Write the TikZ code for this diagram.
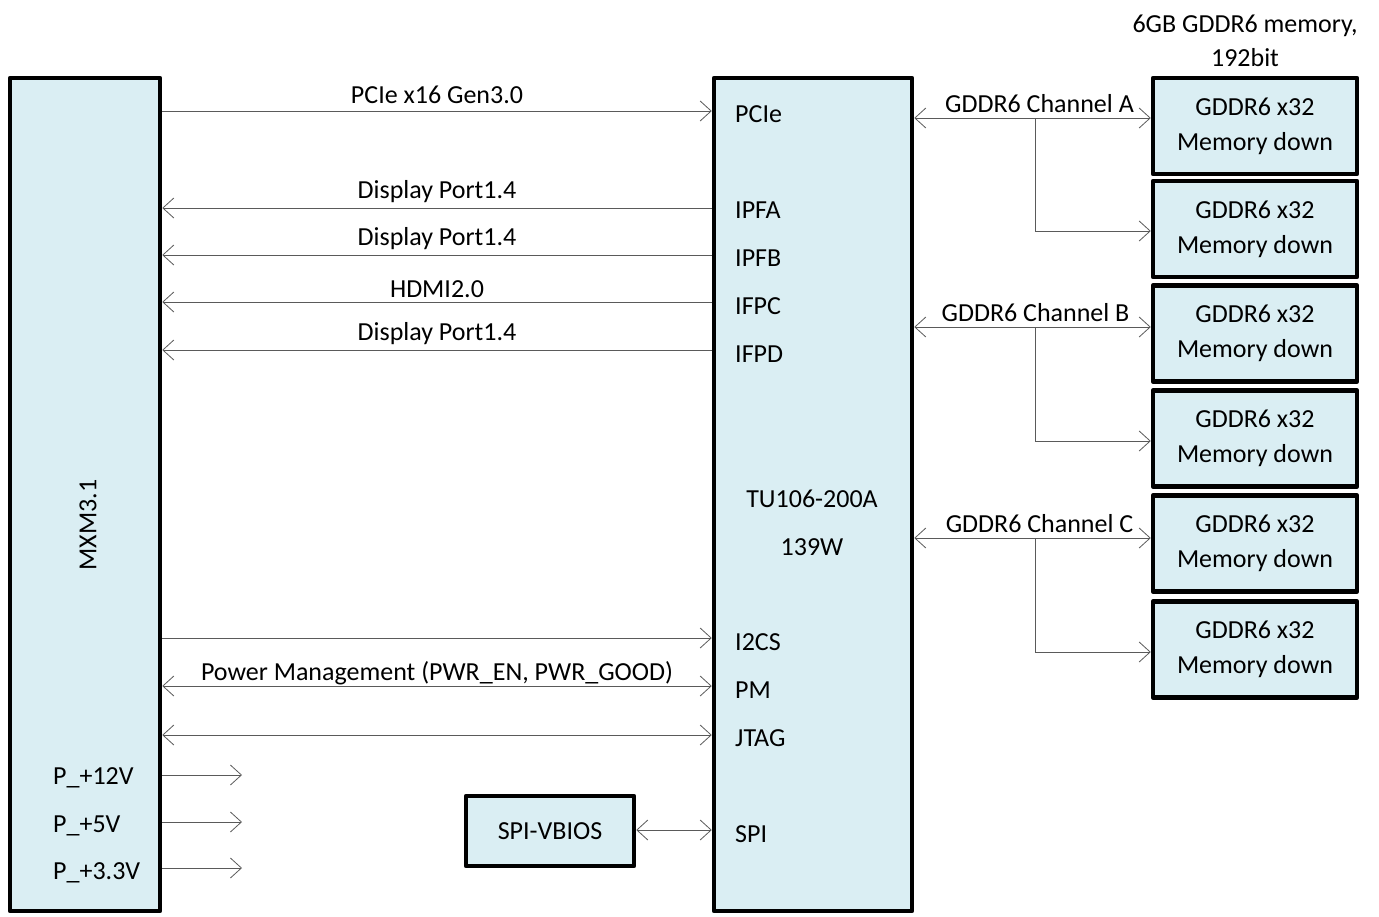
\documentclass[tikz,border=0pt]{standalone}
\usepackage{fontspec}
\setmainfont{Carlito}
\usetikzlibrary{arrows.meta}
\definecolor{boxfill}{RGB}{218,238,243}
\definecolor{linegray}{RGB}{90,90,90}
\tikzset{
  x=1pt, y=-1pt,
  every node/.style={font=\fontsize{26}{35}\selectfont, text=black},
  blockbox/.style={draw=black, line width=4.5pt, fill=boxfill, line join=round, inner sep=0pt, align=center},
  conn/.style={draw=linegray, line width=1pt},
  fwd/.style={conn, -{Straight Barb[length=11pt,width=20pt,line width=0.8pt]}},
  bwd/.style={conn, {Straight Barb[length=11pt,width=20pt,line width=0.8pt]}-},
  both/.style={conn, {Straight Barb[length=11pt,width=20pt,line width=0.8pt]}-{Straight Barb[length=11pt,width=20pt,line width=0.8pt]}},
  pin/.style={anchor=west, inner sep=0pt},
  lbl/.style={midway, inner sep=0pt, yshift=16pt}
}
\begin{document}
\begin{tikzpicture}
\useasboundingbox (0,0) rectangle (1379,916);
% main blocks
\node[blockbox, minimum width=150, minimum height=833] (mxm) at (85,494.5) {};
\node[rotate=90] (mxmlbl) at (88,525) {MXM3.1};
\node[blockbox, minimum width=198, minimum height=833] (gpu) at (813,494.5) {};
\node[align=center, font=\fontsize{26}{48}\selectfont] (gpulbl) at (812,523) {TU106-200A\\139W};
\node[blockbox, minimum width=168, minimum height=70] (vbios) at (550,831) {SPI-VBIOS};
% memory
\node[align=center, font=\fontsize{26}{34}\selectfont] (memtitle) at (1245,41) {6GB GDDR6 memory,\\192bit};
\foreach \i/\y in {1/126,2/229,3/333.5,4/438.5,5/543.5,6/649.5}{
  \node[blockbox, minimum width=204, minimum height=96] (mem\i) at (1255,\y) {GDDR6 x32\\Memory down};
}
% GPU pins
\node[pin] (pPCIe) at (735,114) {PCIe};
\node[pin] (pIPFA) at (735,210) {IPFA};
\node[pin] (pIPFB) at (735,258) {IPFB};
\node[pin] (pIFPC) at (735,306) {IFPC};
\node[pin] (pIFPD) at (735,354) {IFPD};
\node[pin] (pI2CS) at (735,642) {I2CS};
\node[pin] (pPM) at (735,690) {PM};
\node[pin] (pJTAG) at (735,738) {JTAG};
\node[pin] (pSPI) at (735,834) {SPI};
% power labels
\node[pin] (v12) at (53,778) {P\_+12V};
\node[pin] (v5) at (53,826) {P\_+5V};
\node[pin] (v33) at (53,873) {P\_+3.3V};
% coordinates for connector rows
\foreach \n/\y in {rPCIe/111,rA/208,rB/255,rC/302,rD/350,rI2C/638,rPM/686,rJTAG/735,rSPI/830,r12/775,r5/822,r33/868,chA/118,chB/327,chC/538,brA/231,brB/441,brC/652}{
  \coordinate (\n) at (0,\y);
}
\coordinate (e12) at (242,775);
\coordinate (e5) at (242,822);
\coordinate (e33) at (242,868);
\coordinate (brx) at (1035,0);
% MXM <-> GPU connectors
\draw[fwd] (mxm.east |- rPCIe) -- node[lbl]{PCIe x16 Gen3.0} (gpu.west |- rPCIe);
\draw[bwd] (mxm.east |- rA) -- node[lbl]{Display Port1.4} (gpu.west |- rA);
\draw[bwd] (mxm.east |- rB) -- node[lbl]{Display Port1.4} (gpu.west |- rB);
\draw[bwd] (mxm.east |- rC) -- node[lbl, yshift=-3pt]{HDMI2.0} (gpu.west |- rC);
\draw[bwd] (mxm.east |- rD) -- node[lbl]{Display Port1.4} (gpu.west |- rD);
\draw[fwd] (mxm.east |- rI2C) -- (gpu.west |- rI2C);
\draw[both] (mxm.east |- rPM) -- node[lbl, yshift=-3pt]{Power Management (PWR\_EN, PWR\_GOOD)} (gpu.west |- rPM);
\draw[both] (mxm.east |- rJTAG) -- (gpu.west |- rJTAG);
\draw[both] (vbios.east |- rSPI) -- (gpu.west |- rSPI);
% power outputs
\draw[fwd] (mxm.east |- r12) -- (e12);
\draw[fwd] (mxm.east |- r5) -- (e5);
\draw[fwd] (mxm.east |- r33) -- (e33);
% memory channels
\draw[both] (gpu.east |- chA) -- node[lbl, xshift=7pt, yshift=-2pt]{GDDR6 Channel A} (mem1.west |- chA);
\draw[fwd] (brx |- chA) -- (brx |- brA) -- (mem2.west |- brA);
\draw[both] (gpu.east |- chB) -- node[lbl, xshift=3pt, yshift=-2pt]{GDDR6 Channel B} (mem3.west |- chB);
\draw[fwd] (brx |- chB) -- (brx |- brB) -- (mem4.west |- brB);
\draw[both] (gpu.east |- chC) -- node[lbl, xshift=7pt, yshift=-2pt]{GDDR6 Channel C} (mem5.west |- chC);
\draw[fwd] (brx |- chC) -- (brx |- brC) -- (mem6.west |- brC);
\end{tikzpicture}
\end{document}
